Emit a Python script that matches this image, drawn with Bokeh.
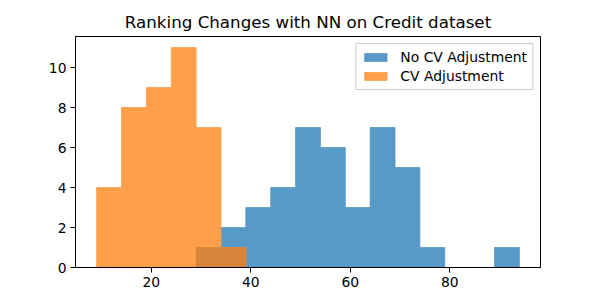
from bokeh.plotting import figure
from bokeh.embed import file_html
from bokeh.resources import INLINE
from bokeh.models import Range1d, FixedTicker, Legend, LegendItem, ColumnDataSource

# Histogram bin edges (shared by both series)
bin_edges = [9, 14, 19, 24, 29, 34, 39, 44, 49, 54, 59, 64, 69, 74, 79, 84, 89, 94]
no_cv_counts = [0, 0, 0, 0, 1, 2, 3, 4, 7, 6, 3, 7, 5, 1, 0, 0, 1]
cv_counts = [4, 8, 9, 11, 7, 1, 0, 0, 0, 0, 0, 0, 0, 0, 0, 0, 0]
series_names = ["No CV Adjustment", "CV Adjustment"]
x_ticks = [20, 40, 60, 80]
y_ticks = [0, 2, 4, 6, 8, 10]

FONT = "DejaVu Sans"

# matplotlib C0/C1 at alpha 0.75, pre-blended on white, and their overlap
BLUE = "#5799c7"
ORANGE = "#ff9f4a"
OVERLAP = "#d5863c"


def bars(counts):
    d = dict(left=[], right=[], top=[])
    for i, c in enumerate(counts):
        if c > 0:
            d["left"].append(bin_edges[i])
            d["right"].append(bin_edges[i + 1])
            d["top"].append(c)
    return ColumnDataSource(d)


overlap_counts = [min(a, b) for a, b in zip(no_cv_counts, cv_counts)]

p = figure(
    width=592, height=292,
    frame_width=465, frame_height=231,
    min_border_left=75, min_border_right=52, min_border_top=36, min_border_bottom=25,
    output_backend="svg", toolbar_location=None,
    x_range=Range1d(4.75, 98.25), y_range=Range1d(0, 11.55),
    title="Ranking Changes with NN on Credit dataset",
)

p.title.align = "center"
p.title.text_font = FONT
p.title.text_font_size = "16.7px"
p.title.text_font_style = "normal"
p.title.text_color = "black"

r1 = p.quad(left="left", right="right", bottom=0, top="top", source=bars(no_cv_counts),
            fill_color=BLUE, line_color=BLUE, line_width=0.8)
r2 = p.quad(left="left", right="right", bottom=0, top="top", source=bars(cv_counts),
            fill_color=ORANGE, line_color=ORANGE, line_width=0.8)
p.quad(left="left", right="right", bottom=0, top="top", source=bars(overlap_counts),
       fill_color=OVERLAP, line_color=OVERLAP, line_width=0.8)

p.xgrid.visible = False
p.ygrid.visible = False
p.outline_line_color = "black"
p.outline_line_width = 1
p.outline_line_alpha = 1

for ax in (p.xaxis[0], p.yaxis[0]):
    ax.axis_line_color = "black"
    ax.major_tick_line_color = "black"
    ax.major_tick_in = 0
    ax.major_tick_out = 5
    ax.minor_tick_line_color = None
    ax.major_label_text_font = FONT
    ax.major_label_text_font_size = "13.9px"
    ax.major_label_text_color = "black"
    ax.major_label_standoff = 4
p.xaxis[0].ticker = FixedTicker(ticks=x_ticks)
p.yaxis[0].ticker = FixedTicker(ticks=y_ticks)

legend = Legend(
    items=[LegendItem(label=series_names[0], renderers=[r1]),
           LegendItem(label=series_names[1], renderers=[r2])],
    location="top_right",
    margin=7,
    padding=5,
    spacing=3,
    label_standoff=11,
    glyph_width=28,
    glyph_height=10,
    label_height=16,
    label_text_font=FONT,
    label_text_font_size="13.9px",
    label_text_color="black",
    border_line_color="#cccccc",
    border_line_alpha=1,
    background_fill_color="white",
    background_fill_alpha=0.8,
)
p.add_layout(legend, "center")

open("out.html", "w").write(file_html(p, INLINE))
